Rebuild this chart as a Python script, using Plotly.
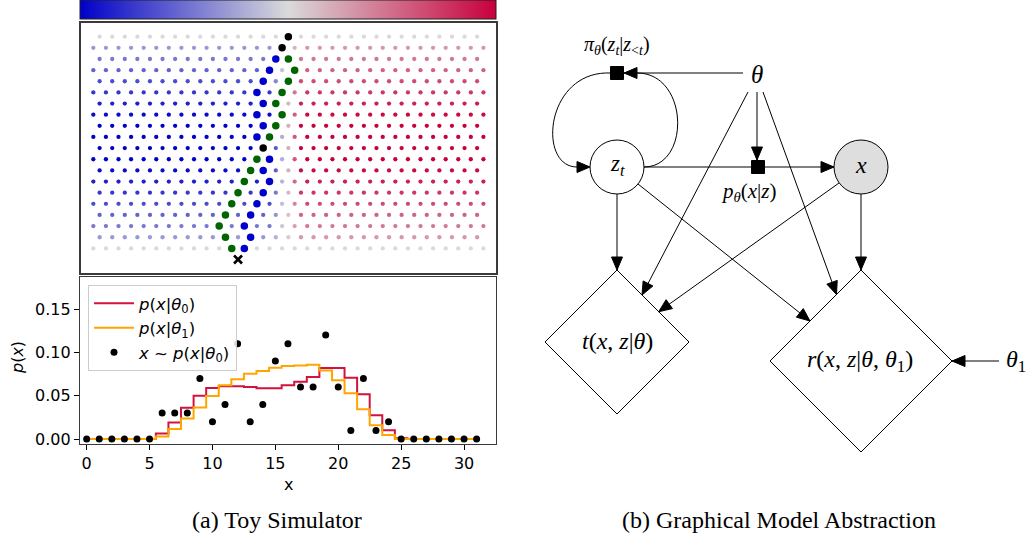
import plotly.graph_objects as go

# ---------------- data ----------------
# Galton board (toy simulator): colour strength of the pegs in each row
row_strength = [0.0, 0.3, 0.45, 0.55, 0.65, 0.75, 0.85, 0.95, 1.0, 1.0,
                1.0, 1.0, 0.95, 0.85, 0.75, 0.65, 0.55, 0.45, 0.3, 0.0]
peg_centre = 15.25
# two simulated paths through the board (column position per row)
blue_path = [15.5, 15.0, 14.5, 14.0, 13.5, 13.0, 13.5, 13.0, 13.5, 13.0,
             13.5, 14.0, 13.5, 14.0, 13.5, 13.0, 12.5, 12.0, 12.5, 12.0]
green_path = [15.5, 15.0, 15.5, 16.0, 15.5, 15.0, 14.5, 15.0, 14.5, 14.0,
              13.5, 13.0, 12.5, 12.0, 11.5, 11.0, 10.5, 10.0, 10.5, 11.0]
final_x = [11.5]
final_row = [20]

# distributions over the final bin x
x_bins = list(range(32))
p_theta0 = [0, 0, 0, 0, 0, 0, 0.0065, 0.019, 0.036, 0.050, 0.059, 0.061, 0.061, 0.060,
            0.0585, 0.0585, 0.062, 0.066, 0.0715, 0.082, 0.082, 0.0708, 0.0517, 0.0275,
            0.0103, 0.001, 0, 0, 0, 0, 0, 0]
p_theta1 = [0, 0, 0, 0, 0, 0, 0.003, 0.0115, 0.0237, 0.0364, 0.0497, 0.062, 0.0689, 0.0754,
            0.0784, 0.0823, 0.0842, 0.085, 0.0857, 0.079, 0.068, 0.0528, 0.0344, 0.016,
            0.0046, 0, 0, 0, 0, 0, 0, 0]
samples = [0, 0, 0, 0, 0, 0, 0.03, 0.03, 0.03, 0.07, 0.02, 0.04, 0.11, 0.02, 0.04, 0.09,
           0.11, 0.06, 0.06, 0.12, 0.06, 0.01, 0.07, 0.01, 0.02, 0, 0, 0, 0, 0, 0, 0]
x_ticks = [0, 5, 10, 15, 20, 25, 30]
y_ticks = [0.0, 0.05, 0.10, 0.15]

# ---------------- styling ----------------
W, H = 1030, 539
cscale = [[0.0, "#0000c8"], [0.5, "#dadada"], [1.0, "#c8003c"]]
SERIF = "Liberation Serif, Times New Roman, serif"
SANS = "DejaVu Sans, sans-serif"
EDGE = "#3a3a3a"


def px_x(p):
    return p / W


def px_y(p):
    return 1 - p / H


fig = go.Figure()

# ---- pegs ----
peg_x, peg_y, peg_v = [], [], []
for r, s in enumerate(row_strength):
    cols = [c + 0.5 for c in range(31)] if r % 2 == 0 else [float(c) for c in range(32)]
    for c in cols:
        t = max(-1.0, min(1.0, (c - peg_centre) / 1.25))
        peg_x.append(c)
        peg_y.append(r)
        peg_v.append(s * t)

fig.add_trace(go.Scatter(
    x=peg_x, y=peg_y, mode="markers", xaxis="x", yaxis="y", showlegend=False,
    marker=dict(size=4.3, color=peg_v, colorscale=cscale, cmin=-1, cmax=1,
                showscale=True,
                colorbar=dict(orientation="h", x=px_x(288), xanchor="center",
                              y=1, yanchor="top", len=416, lenmode="pixels",
                              thickness=19, thicknessmode="pixels",
                              outlinewidth=1, outlinecolor="#222",
                              showticklabels=False, ticks="", xpad=0, ypad=0)),
    hoverinfo="skip"))

# ---- paths ----
bx, by, gx, gy, kx, ky = [], [], [], [], [], []
for r, (b, g) in enumerate(zip(blue_path, green_path)):
    if b == g:
        kx.append(b); ky.append(r)
    else:
        bx.append(b); by.append(r)
        gx.append(g); gy.append(r)
for xs, ys, col in [(bx, by, "#0000cc"), (gx, gy, "#006400"), (kx, ky, "black")]:
    fig.add_trace(go.Scatter(x=xs, y=ys, mode="markers", xaxis="x", yaxis="y",
                             showlegend=False, marker=dict(size=7.5, color=col)))
fig.add_trace(go.Scatter(x=final_x, y=final_row, mode="markers", xaxis="x", yaxis="y",
                         showlegend=False,
                         marker=dict(symbol="x-thin", size=8,
                                     line=dict(width=2.6, color="black"))))

# ---- distributions ----
fig.add_trace(go.Scatter(x=x_bins, y=p_theta0, mode="lines", line_shape="hvh",
                         xaxis="x2", yaxis="y2", line=dict(color="#d4123e", width=2),
                         name="<i>p</i>(<i>x</i>|<i>θ</i><sub>0</sub>)"))
fig.add_trace(go.Scatter(x=x_bins, y=p_theta1, mode="lines", line_shape="hvh",
                         xaxis="x2", yaxis="y2", line=dict(color="#ffa500", width=2),
                         name="<i>p</i>(<i>x</i>|<i>θ</i><sub>1</sub>)"))
fig.add_trace(go.Scatter(x=x_bins, y=samples, mode="markers",
                         xaxis="x2", yaxis="y2", marker=dict(size=7, color="black"),
                         name="<i>x</i> ~ <i>p</i>(<i>x</i>|<i>θ</i><sub>0</sub>)"))

# ---------------- graphical model (drawn on a pixel-scaled overlay axis) ----------------
shapes = []
ann = []


def head(tip, frm, L=13, Wd=5.5):
    dx, dy = tip[0] - frm[0], tip[1] - frm[1]
    n = (dx * dx + dy * dy) ** 0.5
    ux, uy = dx / n, dy / n
    bxx, byy = tip[0] - L * ux, tip[1] - L * uy
    nx, ny = -uy, ux
    return dict(type="path", xref="x3", yref="y3",
                path=f"M{tip[0]},{tip[1]} L{bxx + Wd * nx},{byy + Wd * ny} "
                     f"L{bxx - Wd * nx},{byy - Wd * ny} Z",
                fillcolor="black", line=dict(color="black", width=1))


def arrow(start, tip):
    shapes.append(dict(type="line", xref="x3", yref="y3", x0=start[0], y0=start[1],
                       x1=tip[0], y1=tip[1], line=dict(color="black", width=1)))
    shapes.append(head(tip, start))


ZT = (617, 167)
XN = (861, 167)
PI = (617, 73)
PS = (758, 167)
TD = (617, 342, 72)
RD = (861, 361, 91)
R = 27
SQ = 6.5

# edges
arrow((743, 73), (624, 73))                       # theta -> pi
arrow((644, 167), (834, 167))                     # z_t -> x (through p square)
arrow((757, 92), (757, 160))                      # theta -> p
arrow((748, 92), (642, 295))                      # theta -> t
arrow((763, 92), (836.5, 294.5))                  # theta -> r
arrow((839, 183), (658.7, 311.7))                 # x -> t
arrow((638, 184), (810, 321))                     # z_t -> r
arrow((617, 194), (617, 270))                     # z_t -> t
arrow((861, 194), (861, 270))                     # x -> r
arrow((999, 361), (952, 361))                     # theta_1 -> r
# autoregressive loop
shapes.append(dict(type="path", xref="x3", yref="y3",
                   path="M611,73 C545,70 537,167 577,167",
                   line=dict(color="black", width=1)))
shapes.append(head((590, 167), (577, 167)))
shapes.append(dict(type="path", xref="x3", yref="y3",
                   path="M644,167 C691,167 689,73 637,73",
                   line=dict(color="black", width=1)))

# nodes
shapes.append(dict(type="circle", xref="x3", yref="y3", x0=ZT[0] - R, x1=ZT[0] + R,
                   y0=ZT[1] - R, y1=ZT[1] + R, fillcolor="white",
                   line=dict(color="black", width=1)))
shapes.append(dict(type="circle", xref="x3", yref="y3", x0=XN[0] - R, x1=XN[0] + R,
                   y0=XN[1] - R, y1=XN[1] + R, fillcolor="#dedede",
                   line=dict(color="black", width=1)))
for c in (PI, PS):
    shapes.append(dict(type="rect", xref="x3", yref="y3", x0=c[0] - SQ, x1=c[0] + SQ,
                       y0=c[1] - SQ, y1=c[1] + SQ, fillcolor="black",
                       line=dict(color="black", width=1)))
for cx, cy, h in (TD, RD):
    shapes.append(dict(type="path", xref="x3", yref="y3",
                       path=f"M{cx},{cy - h} L{cx + h},{cy} L{cx},{cy + h} L{cx - h},{cy} Z",
                       line=dict(color="black", width=1)))


def label(x, y, text, size, family=SERIF, **kw):
    ann.append(dict(x=x, y=y, xref="x3", yref="y3", text=text, showarrow=False,
                    font=dict(family=family, size=size, color="black"), **kw))


label(617, 45, "<i>π</i><sub><i>θ</i></sub>(<i>z</i><sub><i>t</i></sub>|<i>z</i>"
               "<sub>&lt;<i>t</i></sub>)", 20)
label(757, 74, "<i>θ</i>", 25)
label(617, 165, "<i>z</i><sub><i>t</i></sub>", 23)
label(861, 165, "<i>x</i>", 24)
label(748, 192, "<i>p</i><sub><i>θ</i></sub>(<i>x</i>|<i>z</i>)", 21)
label(617, 341, "<i>t</i>(<i>x</i>, <i>z</i>|<i>θ</i>)", 24)
label(860, 361, "<i>r</i>(<i>x</i>, <i>z</i>|<i>θ</i>, <i>θ</i><sub>1</sub>)", 24)
label(1016, 361, "<i>θ</i><sub>1</sub>", 24)

# captions and axis titles of panel (a)
label(277, 520, "(a) Toy Simulator", 24)
label(779, 520, "(b) Graphical Model Abstraction", 24)
label(17, 358, "<i>p</i>(<i>x</i>)", 16, family=SANS, textangle=-90)
label(288, 484, "x", 16, family=SANS)

fig.update_layout(
    width=W, height=H,
    margin=dict(l=0, r=0, t=0, b=0, autoexpand=False),
    paper_bgcolor="white", plot_bgcolor="rgba(0,0,0,0)",
    shapes=shapes, annotations=ann,
    font=dict(family=SANS, size=16, color="black"),
    xaxis=dict(domain=[px_x(81), px_x(496)], range=[-0.98, 32.0], showgrid=False,
               zeroline=False, showticklabels=False, ticks="", showline=True,
               mirror=True, linecolor=EDGE, linewidth=1.5, anchor="y"),
    yaxis=dict(domain=[px_y(273), px_y(23)], range=[21.21, -1.23], showgrid=False,
               zeroline=False, showticklabels=False, ticks="", showline=True,
               mirror=True, linecolor=EDGE, linewidth=1.5, anchor="x"),
    xaxis2=dict(domain=[px_x(80), px_x(496)], range=[-0.53, 32.54], showgrid=False,
                zeroline=False, tickvals=x_ticks, ticks="outside", ticklen=5,
                tickcolor="black", showline=True, mirror=True, linecolor=EDGE,
                linewidth=1.3, anchor="y2", tickfont=dict(size=16, family=SANS)),
    yaxis2=dict(domain=[px_y(444), px_y(277)], range=[-0.0057, 0.187], showgrid=False,
                zeroline=False, tickvals=y_ticks, tickformat=".2f", ticks="outside",
                ticklen=5, tickcolor="black", showline=True, mirror=True,
                linecolor=EDGE, linewidth=1.3, anchor="x2",
                tickfont=dict(size=16, family=SANS)),
    xaxis3=dict(domain=[0, 1], range=[0, W], visible=False, anchor="y3"),
    yaxis3=dict(domain=[0, 1], range=[H, 0], visible=False, anchor="x3"),
    legend=dict(x=px_x(88), y=px_y(285), xanchor="left", yanchor="top",
                bgcolor="rgba(255,255,255,0.85)", bordercolor="#cccccc", borderwidth=1,
                font=dict(family=SANS, size=16.5), tracegroupgap=0, itemwidth=40),
)

fig.write_html("out.html", config={"displayModeBar": False},
               post_script="document.body.style.margin='0px';"
                           "document.body.style.overflow='hidden';")
